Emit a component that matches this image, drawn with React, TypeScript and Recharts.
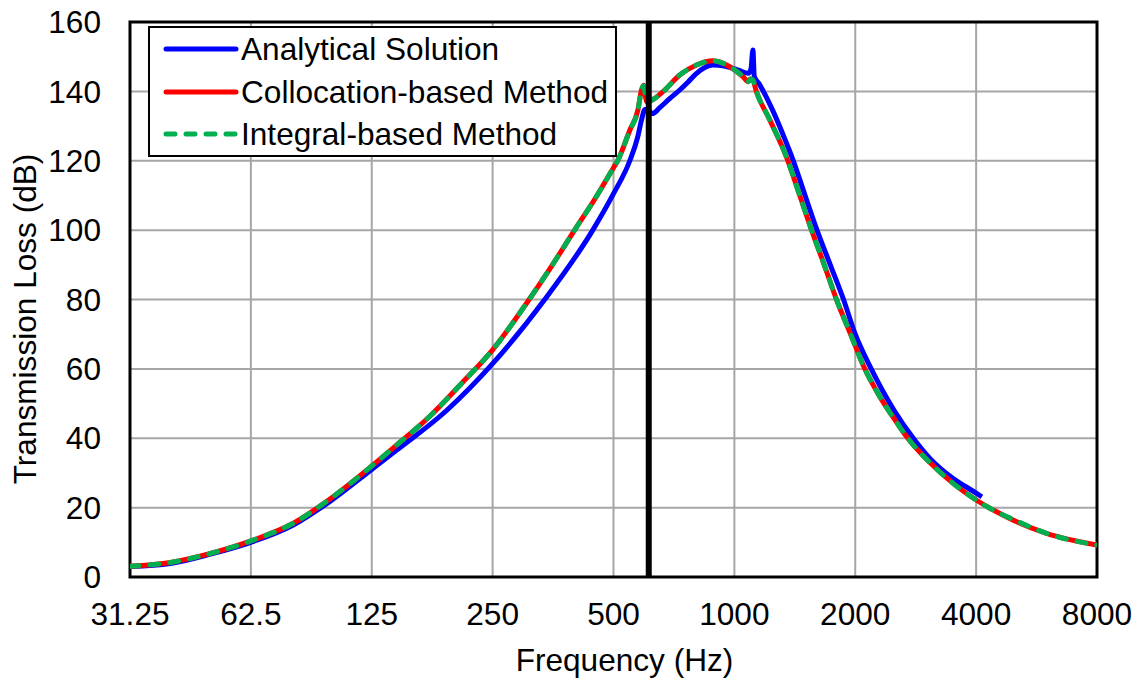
import {
  LineChart,
  Line,
  XAxis,
  YAxis,
  CartesianGrid,
  ReferenceLine,
  ReferenceArea,
  Label,
} from 'recharts'

const freqTicks = [31.25, 62.5, 125, 250, 500, 1000, 2000, 4000, 8000]
const tlTicks = [0, 20, 40, 60, 80, 100, 120, 140, 160]
const markerFreq = 612

const analyticalFreq = [
  31.25, 39.4, 49.6, 62.5, 79.7, 98.4, 125, 144, 192, 250, 337, 444, 500, 549, 575, 587, 599, 612,
  625, 652, 690, 731, 768, 805, 884, 944, 1024, 1083, 1100, 1112, 1121, 1151, 1245, 1349, 1392,
  1500, 1606, 1740, 1870, 2000, 2170, 2500, 2790, 3068, 3506, 4000, 4134,
]
const analyticalTL = [
  3.0, 3.9, 6.6, 10.0, 15.0, 21.8, 31, 36.5, 48, 61.5, 80, 100, 110.5, 120, 127, 131.7, 134.8,
  134.5, 133.6, 135.3, 137.9, 140.4, 142.8, 145.2, 147.6, 147.3, 146.1, 145.2, 146.5, 151.9, 144.3,
  142.3, 134.6, 125, 121, 110, 100, 89.5, 80, 70, 61, 48, 40, 34.2, 28.4, 24.2, 23.1,
]

const collocationFreq = [
  31.25, 39.4, 49.6, 62.5, 79.7, 98.4, 125, 144, 175, 210, 250, 304, 350, 400, 455, 500, 512,
  549, 575, 587, 594, 605, 630, 664, 731, 805, 884, 974, 1052, 1083, 1095, 1110, 1135, 1226, 1349,
  1450, 1557, 1680, 1796, 1955, 2094, 2303, 2535, 2683, 3068, 3506, 4000, 4497, 4946, 5987, 8000,
]
const collocationTL = [
  3.1, 4.2, 6.8, 10.4, 15.5, 22.5, 32, 38, 46.5, 56, 65.5, 79, 89.5, 100, 110, 118, 120, 128.8,
  134.6, 140.4, 141.8, 137, 137.8, 139.9, 144.7, 147.6, 148.8, 147.1, 144.2, 142.8, 143.6, 143.4,
  139.9, 131.7, 121, 110.5, 100, 89.5, 80, 69.5, 61, 52, 44.6, 40.5, 33, 27, 22.2, 18.8, 16.4,
  12.6, 9.2,
]

const integralFreq = [
  31.25, 39.4, 49.6, 62.5, 79.7, 98.4, 125, 144, 175, 210, 250, 304, 350, 400, 455, 500, 512,
  549, 575, 587, 594, 605, 630, 664, 731, 805, 884, 974, 1052, 1083, 1095, 1110, 1135, 1226, 1349,
  1450, 1557, 1680, 1796, 1955, 2094, 2303, 2535, 2683, 3068, 3506, 4000, 4497, 4946, 5987, 8000,
]
const integralTL = [
  3.1, 4.2, 6.8, 10.4, 15.5, 22.5, 32, 38, 46.5, 56, 65.5, 79, 89.5, 100, 110, 118, 120, 128.8,
  134.6, 140.4, 141.6, 137, 137.8, 139.9, 144.7, 147.6, 148.8, 147.1, 144.2, 142.8, 143.6, 143.4,
  139.9, 131.7, 121, 110.5, 100, 89.5, 80, 69.5, 61, 52, 44.6, 40.5, 33, 27, 22.2, 18.8, 16.6,
  12.6, 9.2,
]

const toPoints = (freq: number[], tl: number[]) => freq.map((f, i) => ({ f, tl: tl[i] }))

const analyticalData = toPoints(analyticalFreq, analyticalTL)
const collocationData = toPoints(collocationFreq, collocationTL)
const integralData = toPoints(integralFreq, integralTL)

const FONT = '"Liberation Sans", Arial, sans-serif'
const FS = 31.6
const GREEN = '#00B050'

const legendItems = [
  { name: 'Analytical Solution', color: '#0000FF', dash: undefined },
  { name: 'Collocation-based Method', color: '#FF0000', dash: undefined },
  { name: 'Integral-based Method', color: GREEN, dash: '9 11' },
]

function ChartLegend() {
  return (
    <div
      style={{
        position: 'absolute',
        left: 148,
        top: 26,
        width: 465,
        height: 127,
        border: '2px solid #000',
        background: '#fff',
        fontFamily: FONT,
        fontSize: FS,
        color: '#000',
      }}
    >
      {legendItems.map((item, i) => (
        <div
          key={item.name}
          style={{
            position: 'absolute',
            left: 0,
            top: i * 42.5,
            height: 42,
            lineHeight: '42px',
            whiteSpace: 'nowrap',
          }}
        >
          <svg width={90} height={42} style={{ position: 'absolute', left: 10, top: 0 }}>
            <line
              x1={6}
              x2={76}
              y1={21}
              y2={21}
              stroke={item.color}
              strokeWidth={5}
              strokeLinecap="round"
              strokeDasharray={item.dash}
            />
          </svg>
          <span style={{ position: 'absolute', left: 91, top: 0 }}>{item.name}</span>
        </div>
      ))}
    </div>
  )
}

export default function App() {
  return (
    <div style={{ position: 'absolute', left: 0, top: 0, width: 1144, height: 682, background: '#fff', fontFamily: FONT }}>
      <LineChart width={1144} height={682} margin={{ top: 22, right: 47, bottom: 45, left: 0 }}>
        <CartesianGrid stroke="#A6A6A6" strokeWidth={2} />
        <XAxis
          type="number"
          dataKey="f"
          scale="log"
          domain={[31.25, 8000]}
          ticks={freqTicks}
          interval={0}
          allowDataOverflow
          axisLine={false}
          tickLine={false}
          tickSize={0}
          tickMargin={26}
          height={60}
          tick={{ fontSize: FS, fill: '#000', fontFamily: FONT }}
          tickFormatter={(v: number) => String(v)}
        >
          <Label
            content={({ viewBox }: any) => (
              <text
                x={viewBox.x + viewBox.width / 2 + 11}
                y={671}
                textAnchor="middle"
                fontSize={FS}
                fill="#000"
                fontFamily={FONT}
              >
                Frequency (Hz)
              </text>
            )}
          />
        </XAxis>
        <YAxis
          type="number"
          domain={[0, 160]}
          ticks={tlTicks}
          interval={0}
          width={130}
          axisLine={false}
          tickLine={false}
          tickSize={0}
          tickMargin={29}
          tick={{ fontSize: FS, fill: '#000', fontFamily: FONT }}
        >
          <Label
            content={() => (
              <text
                x={36}
                y={319}
                transform="rotate(-90 36 319)"
                textAnchor="middle"
                fontSize={FS}
                fill="#000"
                fontFamily={FONT}
              >
                Transmission Loss (dB)
              </text>
            )}
          />
        </YAxis>
        <ReferenceArea
          x1={31.25}
          x2={8000}
          y1={0}
          y2={160}
          fill="none"
          stroke="#000"
          strokeWidth={3}
          ifOverflow="visible"
        />
        <Line
          data={analyticalData}
          dataKey="tl"
          type="monotone"
          stroke="#0000FF"
          strokeWidth={5}
          strokeLinejoin="round"
          dot={false}
          activeDot={false}
          isAnimationActive={false}
        />
        <Line
          data={collocationData}
          dataKey="tl"
          type="monotone"
          stroke="#FF0000"
          strokeWidth={5}
          strokeLinejoin="round"
          dot={false}
          activeDot={false}
          isAnimationActive={false}
        />
        <Line
          data={integralData}
          dataKey="tl"
          type="monotone"
          stroke={GREEN}
          strokeWidth={5}
          strokeDasharray="9 11"
          strokeLinecap="round"
          strokeLinejoin="round"
          dot={false}
          activeDot={false}
          isAnimationActive={false}
        />
        <ReferenceLine x={markerFreq} stroke="#000" strokeWidth={6} ifOverflow="visible" />
      </LineChart>
      <ChartLegend />
    </div>
  )
}
